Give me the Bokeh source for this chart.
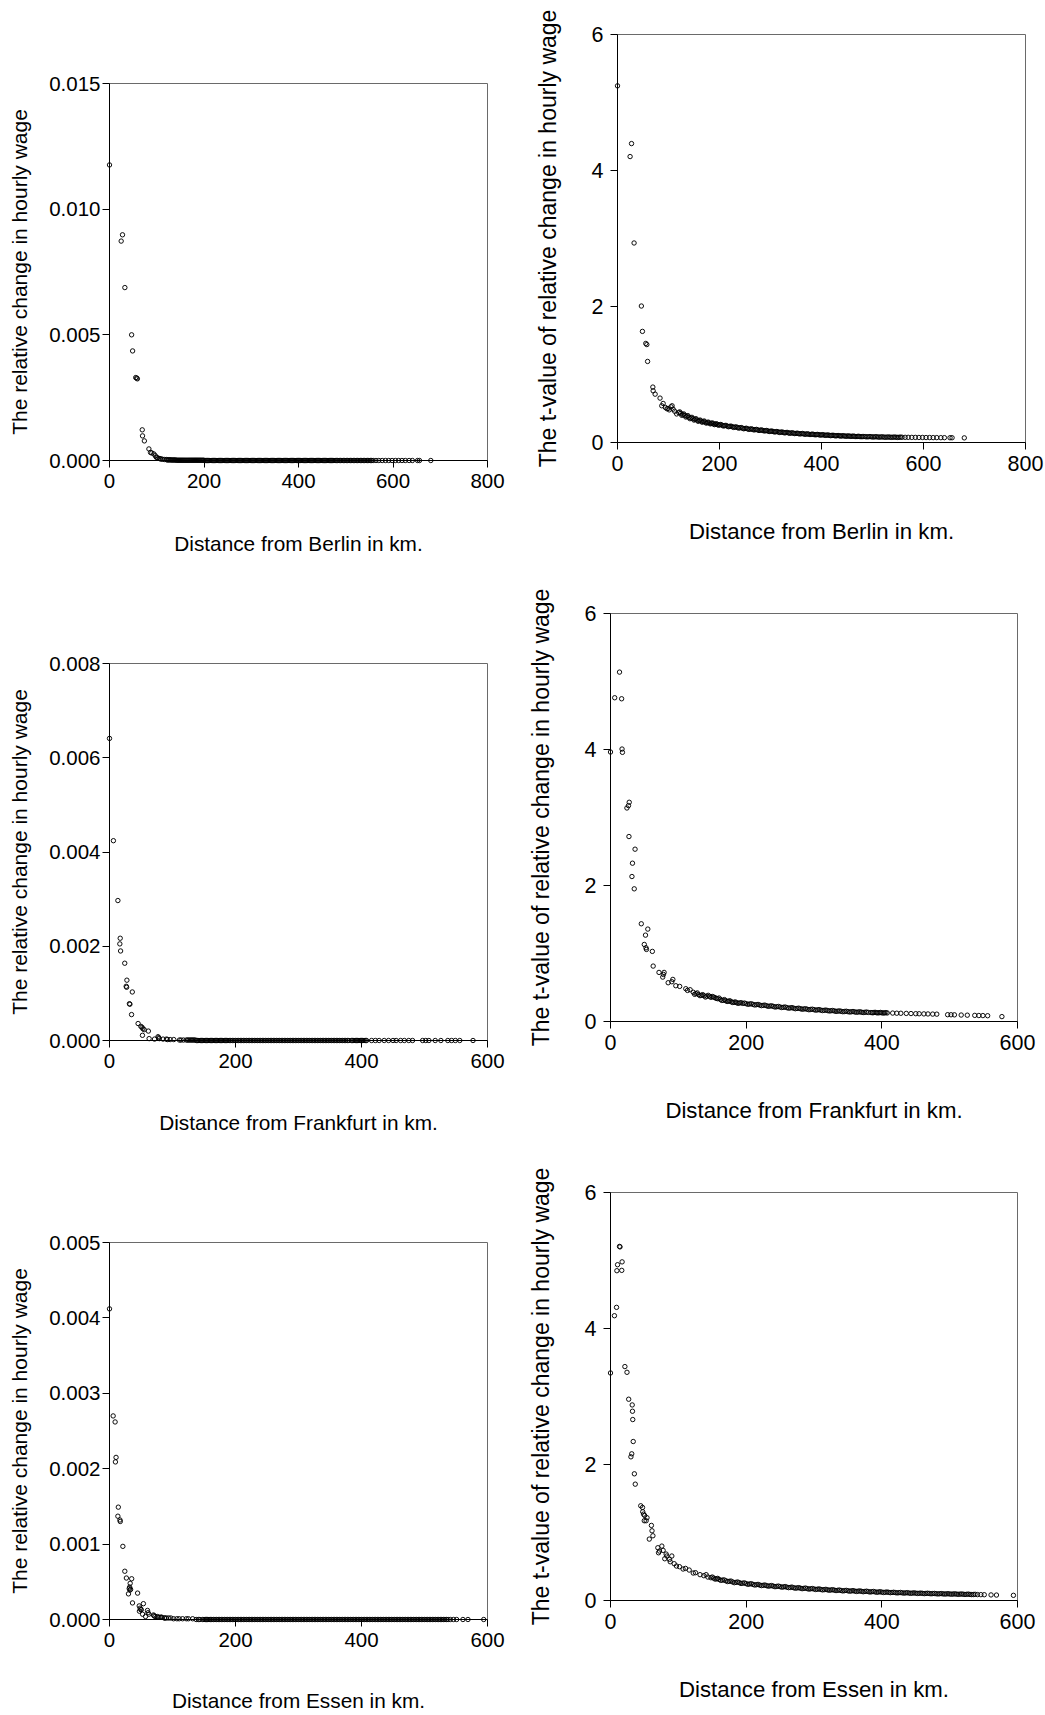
from bokeh.plotting import figure
from bokeh.layouts import column, row
from bokeh.models import Range1d, FixedTicker, PrintfTickFormatter, ColumnDataSource
from bokeh.embed import file_html
from bokeh.resources import INLINE

FONT = "Liberation Sans"

# ---------------- data ----------------
berlin_dist = [
    0, 24.7, 27.5, 32.5, 46.8, 48.9, 55.5, 57.5, 59.0, 69.3,
    69.9, 73.8, 83.4, 86.8, 89.5, 93.9, 97.0, 99.0, 101.5, 105.0,
    107.0, 109.0, 112, 116, 120, 124, 128, 132, 136, 140,
    144, 148, 152, 156, 160, 164, 168, 172, 176, 180,
    184, 188, 192, 196, 200, 205, 210, 215, 220, 225,
    230, 235, 240, 245, 250, 255, 260, 265, 270, 275,
    280, 285, 290, 295, 300, 305, 310, 315, 320, 325,
    330, 335, 340, 345, 350, 355, 360, 365, 370, 375,
    380, 385, 390, 395, 400, 405, 410, 415, 420, 425,
    430, 435, 440, 445, 450, 455, 460, 465, 470, 475,
    480, 486, 492, 498, 504, 510, 516, 522, 528, 534,
    540, 546, 552, 558, 564, 570, 577, 584, 591, 598,
    605, 612, 619, 626, 634, 641, 652, 656, 680]
berlin_rel = [
    0.01176, 0.00873, 0.00898, 0.00688, 0.00500, 0.00436, 0.00330, 0.00328, 0.00325, 0.00122,
    0.00098, 0.00078, 0.00046, 0.00032, 0.00030, 0.00026, 0.00019, 0.00013, 0.00011, 0.00008,
    0.00007, 0.00006, 0.00005, 0.00004, 0.00004, 0.00003, 0.00003, 0.00002, 0.00002, 0.00002,
    0.00001, 0.00001, 0.00001, 0.00001, 0.00001, 0.00001, 0.00001, 0.00001, 0.00001, 0.00001,
    0.00001, 0.00001, 0.00001, 0.00001, 0.00001, 0.0, 0.0, 0.0, 0.0, 0.0,
    0.0, 0.0, 0.0, 0.0, 0.0, 0.0, 0.0, 0.0, 0.0, 0.0,
    0.0, 0.0, 0.0, 0.0, 0.0, 0.0, 0.0, 0.0, 0.0, 0.0,
    0.0, 0.0, 0.0, 0.0, 0.0, 0.0, 0.0, 0.0, 0.0, 0.0,
    0.0, 0.0, 0.0, 0.0, 0.0, 0.0, 0.0, 0.0, 0.0, 0.0,
    0.0, 0.0, 0.0, 0.0, 0.0, 0.0, 0.0, 0.0, 0.0, 0.0,
    0.0, 0.0, 0.0, 0.0, 0.0, 0.0, 0.0, 0.0, 0.0, 0.0,
    0.0, 0.0, 0.0, 0.0, 0.0, 0.0, 0.0, 0.0, 0.0, 0.0,
    0.0, 0.0, 0.0, 0.0, 0.0, 0.0, 0.0, 0.0, 0.0]
berlin_t = [
    5.245, 4.205, 4.396, 2.934, 2.007, 1.634, 1.457, 1.440, 1.192, 0.815,
    0.760, 0.711, 0.653, 0.540, 0.574, 0.515, 0.496, 0.500, 0.480, 0.525,
    0.540, 0.490, 0.46, 0.42, 0.44, 0.43, 0.41, 0.40, 0.385, 0.37,
    0.36, 0.35, 0.34, 0.33, 0.322, 0.315, 0.308, 0.30, 0.293, 0.287,
    0.281, 0.275, 0.27, 0.265, 0.26, 0.254, 0.248, 0.242, 0.237, 0.232,
    0.226, 0.221, 0.216, 0.211, 0.206, 0.201, 0.197, 0.193, 0.189, 0.185,
    0.181, 0.177, 0.173, 0.169, 0.165, 0.162, 0.158, 0.155, 0.151, 0.148,
    0.145, 0.142, 0.139, 0.137, 0.134, 0.131, 0.129, 0.127, 0.124, 0.122,
    0.120, 0.118, 0.116, 0.114, 0.112, 0.110, 0.108, 0.106, 0.104, 0.102,
    0.100, 0.099, 0.097, 0.096, 0.094, 0.093, 0.092, 0.090, 0.089, 0.088,
    0.087, 0.086, 0.085, 0.084, 0.083, 0.082, 0.081, 0.080, 0.079, 0.079,
    0.078, 0.078, 0.077, 0.077, 0.076, 0.076, 0.075, 0.075, 0.074, 0.074,
    0.073, 0.073, 0.072, 0.072, 0.071, 0.071, 0.070, 0.070, 0.068]
# second layer of the dense Berlin band
berlin_dist_b = [
    122, 126, 130, 134, 138, 142, 146, 150, 154, 158,
    162, 166, 170, 174, 178, 182, 186, 190, 194, 198,
    202.5, 207.5, 212.5, 217.5, 222.5, 227.5, 232.5, 237.5, 242.5, 247.5,
    252.5, 257.5, 262.5, 267.5, 272.5, 277.5, 282.5, 287.5, 292.5, 297.5,
    302.5, 307.5, 312.5, 317.5, 322.5, 327.5, 332.5, 337.5, 342.5, 347.5,
    352.5, 357.5, 362.5, 367.5, 372.5, 377.5, 382.5, 387.5, 392.5, 397.5,
    402.5, 407.5, 412.5, 417.5, 422.5, 427.5, 432.5, 437.5, 442.5, 447.5,
    452.5, 457.5, 462.5, 467.5, 472.5, 477.5, 483, 489, 495, 501,
    507, 513, 519, 525, 531, 537, 543, 549, 555]
berlin_rel_b = [
    0.00002, 0.00002, 0.00002, 0.00002, 0.00002, 0.00001, 0.00001, 0.00001, 0.00001, 0.00001,
    0.00001, 0.00001, 0.00001, 0.00001, 0.00001, 0.00001, 0.00001, 0.00001, 0.00001, 0.00001,
    0.0, 0.0, 0.0, 0.0, 0.0, 0.0, 0.0, 0.0, 0.0, 0.0,
    0.0, 0.0, 0.0, 0.0, 0.0, 0.0, 0.0, 0.0, 0.0, 0.0,
    0.0, 0.0, 0.0, 0.0, 0.0, 0.0, 0.0, 0.0, 0.0, 0.0,
    0.0, 0.0, 0.0, 0.0, 0.0, 0.0, 0.0, 0.0, 0.0, 0.0,
    0.0, 0.0, 0.0, 0.0, 0.0, 0.0, 0.0, 0.0, 0.0, 0.0,
    0.0, 0.0, 0.0, 0.0, 0.0, 0.0, 0.0, 0.0, 0.0, 0.0,
    0.0, 0.0, 0.0, 0.0, 0.0, 0.0, 0.0, 0.0, 0.0]
berlin_t_b = [
    0.45, 0.40, 0.42, 0.375, 0.395, 0.35, 0.37, 0.33, 0.35, 0.312,
    0.33, 0.298, 0.316, 0.285, 0.30, 0.274, 0.288, 0.263, 0.276, 0.254,
    0.265, 0.243, 0.252, 0.232, 0.241, 0.222, 0.23, 0.212, 0.22, 0.202,
    0.21, 0.193, 0.201, 0.185, 0.193, 0.177, 0.185, 0.17, 0.177, 0.162,
    0.169, 0.155, 0.162, 0.148, 0.155, 0.142, 0.149, 0.136, 0.143, 0.131,
    0.137, 0.126, 0.133, 0.121, 0.128, 0.117, 0.123, 0.113, 0.119, 0.109,
    0.115, 0.105, 0.111, 0.101, 0.107, 0.098, 0.103, 0.095, 0.100, 0.092,
    0.097, 0.090, 0.094, 0.087, 0.091, 0.085, 0.088, 0.083, 0.087, 0.081,
    0.085, 0.079, 0.083, 0.077, 0.081, 0.076, 0.080, 0.075, 0.079]

frank_dist = [
    0, 6.2, 13.3, 16.4, 17.0, 17.6, 24.2, 26.5, 27.2, 27.6,
    31.6, 32.4, 35.0, 36.2, 45.4, 49.8, 51.6, 52.3, 53.0, 55.0,
    61.7, 62.9, 71.5, 77.0, 78.0, 79.0, 85.0, 90.4, 91.9, 96.3,
    102.0, 111.0, 113.5, 117.4, 122, 126, 130, 134, 138, 142,
    146, 150, 154, 158, 162, 166, 170, 174, 178, 182,
    186, 190, 195, 200, 205, 210, 215, 220, 225, 230,
    235, 240, 245, 250, 255, 260, 265, 270, 275, 280,
    285, 290, 295, 300, 305, 310, 315, 320, 325, 330,
    335, 340, 345, 350, 355, 360, 365, 370, 375, 380,
    384, 388, 392, 396, 400, 404, 408, 416, 422, 428,
    436, 443, 450, 455, 462, 468, 475, 481, 497, 502,
    507, 517, 526, 537, 543, 549, 556, 577]
frank_rel = [
    0.00641, 0.00424, 0.00297, 0.00205, 0.00217, 0.00190, 0.00164, 0.00115, 0.00113, 0.00128,
    0.00078, 0.00077, 0.00055, 0.00103, 0.00036, 0.00030, 0.00028, 0.00011, 0.00025, 0.00023,
    0.00020, 0.00004, 0.00003, 0.00008, 0.00006, 0.00004, 0.00003, 0.00003, 0.00002, 0.00002,
    0.00002, 0.00001, 0.00001, 0.00001, 0.00001, 0.00001, 0.00001, 0.00001, 0.0, 0.0,
    0.0, 0.0, 0.0, 0.0, 0.0, 0.0, 0.0, 0.0, 0.0, 0.0,
    0.0, 0.0, 0.0, 0.0, 0.0, 0.0, 0.0, 0.0, 0.0, 0.0,
    0.0, 0.0, 0.0, 0.0, 0.0, 0.0, 0.0, 0.0, 0.0, 0.0,
    0.0, 0.0, 0.0, 0.0, 0.0, 0.0, 0.0, 0.0, 0.0, 0.0,
    0.0, 0.0, 0.0, 0.0, 0.0, 0.0, 0.0, 0.0, 0.0, 0.0,
    0.0, 0.0, 0.0, 0.0, 0.0, 0.0, 0.0, 0.0, 0.0, 0.0,
    0.0, 0.0, 0.0, 0.0, 0.0, 0.0, 0.0, 0.0, 0.0, 0.0,
    0.0, 0.0, 0.0, 0.0, 0.0, 0.0, 0.0, 0.0]
frank_t = [
    3.963, 4.761, 5.138, 4.746, 4.007, 3.958, 3.140, 3.175, 2.720, 3.224,
    2.132, 2.328, 1.951, 2.534, 1.437, 1.133, 1.270, 1.084, 1.060, 1.359,
    1.031, 0.815, 0.722, 0.653, 0.692, 0.722, 0.570, 0.585, 0.619, 0.526,
    0.516, 0.482, 0.457, 0.467, 0.43, 0.41, 0.395, 0.385, 0.378, 0.372,
    0.37, 0.368, 0.35, 0.335, 0.325, 0.312, 0.305, 0.298, 0.29, 0.282,
    0.276, 0.272, 0.266, 0.262, 0.257, 0.252, 0.247, 0.242, 0.237, 0.232,
    0.227, 0.222, 0.217, 0.213, 0.209, 0.204, 0.200, 0.196, 0.192, 0.188,
    0.184, 0.180, 0.177, 0.174, 0.171, 0.167, 0.164, 0.161, 0.158, 0.155,
    0.152, 0.150, 0.147, 0.145, 0.143, 0.141, 0.139, 0.137, 0.135, 0.133,
    0.132, 0.131, 0.130, 0.129, 0.128, 0.127, 0.126, 0.124, 0.122, 0.121,
    0.119, 0.117, 0.115, 0.114, 0.112, 0.111, 0.109, 0.108, 0.100, 0.099,
    0.098, 0.095, 0.093, 0.090, 0.088, 0.087, 0.085, 0.072]
# second layer of the dense Frankfurt band
frank_dist_b = [
    124, 128, 132, 136, 140, 144, 148, 152, 156, 160,
    164, 168, 172, 176, 180, 184, 188, 192.5, 197.5, 202.5,
    207.5, 212.5, 217.5, 222.5, 227.5, 232.5, 237.5, 242.5, 247.5, 252.5,
    257.5, 262.5, 267.5, 272.5, 277.5, 282.5, 287.5, 292.5, 297.5, 302.5,
    307.5, 312.5, 317.5, 322.5, 327.5, 332.5, 337.5, 342.5, 347.5, 352.5,
    357.5, 362.5, 367.5, 372.5, 377.5, 386, 390, 394, 398, 402,
    406]
frank_rel_b = [
    0.00001, 0.00001, 0.00001, 0.00001, 0.0, 0.0, 0.0, 0.0, 0.0, 0.0,
    0.0, 0.0, 0.0, 0.0, 0.0, 0.0, 0.0, 0.0, 0.0, 0.0,
    0.0, 0.0, 0.0, 0.0, 0.0, 0.0, 0.0, 0.0, 0.0, 0.0,
    0.0, 0.0, 0.0, 0.0, 0.0, 0.0, 0.0, 0.0, 0.0, 0.0,
    0.0, 0.0, 0.0, 0.0, 0.0, 0.0, 0.0, 0.0, 0.0, 0.0,
    0.0, 0.0, 0.0, 0.0, 0.0, 0.0, 0.0, 0.0, 0.0, 0.0,
    0.0]
frank_t_b = [
    0.40, 0.42, 0.38, 0.395, 0.36, 0.385, 0.355, 0.36, 0.34, 0.345,
    0.31, 0.322, 0.295, 0.305, 0.28, 0.288, 0.268, 0.277, 0.271, 0.253,
    0.261, 0.243, 0.251, 0.233, 0.241, 0.223, 0.231, 0.213, 0.221, 0.205,
    0.213, 0.196, 0.204, 0.188, 0.196, 0.181, 0.188, 0.173, 0.181, 0.167,
    0.175, 0.161, 0.168, 0.155, 0.162, 0.149, 0.156, 0.144, 0.151, 0.140,
    0.147, 0.136, 0.143, 0.132, 0.139, 0.129, 0.135, 0.127, 0.133, 0.125,
    0.130]

essen_dist = [
    0, 5.8, 8.9, 9.4, 10.4, 13.3, 14.0, 16.6, 17.1, 21.2,
    24.3, 26.8, 30.1, 31.3, 32.0, 32.4, 32.8, 33.5, 35.2, 36.5,
    44.6, 47.2, 47.5, 48.7, 49.8, 50.3, 52.5, 53.8, 57.2, 60.3,
    61.2, 62.5, 69.8, 70.8, 72.2, 75.7, 77.6, 80.0, 82.0, 83.0,
    87.0, 88.0, 90.4, 93.9, 97.3, 101.7, 107.0, 110.6, 116.0, 122.0,
    125.3, 132.0, 137.6, 141.0, 143.5, 148, 152, 156, 160, 165,
    170, 175, 180, 185, 190, 195, 200, 205, 210, 215,
    220, 225, 230, 235, 240, 245, 250, 255, 260, 265,
    270, 275, 280, 285, 290, 295, 300, 305, 310, 315,
    320, 325, 330, 335, 340, 345, 350, 355, 360, 365,
    370, 375, 380, 385, 390, 395, 400, 405, 410, 415,
    420, 425, 430, 435, 440, 445, 450, 455, 460, 465,
    470, 475, 480, 485, 490, 495, 500, 505, 510, 515,
    520, 525, 530, 535, 541, 546, 551, 561, 569, 594]
essen_rel = [
    0.00412, 0.00270, 0.00262, 0.00209, 0.00215, 0.00137, 0.00149, 0.00132, 0.00130, 0.00097,
    0.00064, 0.00055, 0.00034, 0.00041, 0.00043, 0.00039, 0.00048, 0.00040, 0.00054, 0.00022,
    0.00035, 0.00018, 0.00011, 0.00015, 0.00013, 0.00013, 0.00007, 0.00021, 0.00004, 0.00012,
    0.00009, 0.00007, 0.00006, 0.00005, 0.00004, 0.00004, 0.00003, 0.00003, 0.00003, 0.00003,
    0.00002, 0.00002, 0.00002, 0.00002, 0.00002, 0.00001, 0.00001, 0.00001, 0.00001, 0.00001,
    0.00001, 0.00001, 0.0, 0.0, 0.0, 0.0, 0.0, 0.0, 0.0, 0.0,
    0.0, 0.0, 0.0, 0.0, 0.0, 0.0, 0.0, 0.0, 0.0, 0.0,
    0.0, 0.0, 0.0, 0.0, 0.0, 0.0, 0.0, 0.0, 0.0, 0.0,
    0.0, 0.0, 0.0, 0.0, 0.0, 0.0, 0.0, 0.0, 0.0, 0.0,
    0.0, 0.0, 0.0, 0.0, 0.0, 0.0, 0.0, 0.0, 0.0, 0.0,
    0.0, 0.0, 0.0, 0.0, 0.0, 0.0, 0.0, 0.0, 0.0, 0.0,
    0.0, 0.0, 0.0, 0.0, 0.0, 0.0, 0.0, 0.0, 0.0, 0.0,
    0.0, 0.0, 0.0, 0.0, 0.0, 0.0, 0.0, 0.0, 0.0, 0.0,
    0.0, 0.0, 0.0, 0.0, 0.0, 0.0, 0.0, 0.0, 0.0, 0.0]
essen_t = [
    3.346, 4.188, 4.311, 4.850, 4.938, 5.207, 5.200, 4.855, 4.980, 3.440,
    3.356, 2.960, 2.113, 2.157, 2.876, 2.783, 2.661, 2.338, 1.863, 1.711,
    1.393, 1.368, 1.305, 1.270, 1.173, 1.251, 1.173, 1.217, 0.903, 1.104,
    1.025, 0.952, 0.776, 0.702, 0.727, 0.800, 0.737, 0.614, 0.683, 0.654,
    0.605, 0.570, 0.654, 0.541, 0.507, 0.497, 0.463, 0.472, 0.448, 0.404,
    0.409, 0.380, 0.365, 0.380, 0.345, 0.335, 0.330, 0.318, 0.310, 0.300,
    0.290, 0.282, 0.273, 0.267, 0.262, 0.255, 0.248, 0.243, 0.237, 0.232,
    0.227, 0.223, 0.219, 0.215, 0.211, 0.207, 0.204, 0.200, 0.196, 0.192,
    0.188, 0.185, 0.181, 0.178, 0.175, 0.172, 0.169, 0.166, 0.163, 0.160,
    0.157, 0.155, 0.152, 0.150, 0.147, 0.145, 0.143, 0.141, 0.139, 0.137,
    0.135, 0.133, 0.131, 0.129, 0.127, 0.125, 0.123, 0.121, 0.120, 0.118,
    0.116, 0.115, 0.113, 0.112, 0.110, 0.109, 0.108, 0.106, 0.105, 0.104,
    0.103, 0.102, 0.100, 0.099, 0.098, 0.097, 0.096, 0.095, 0.094, 0.093,
    0.092, 0.091, 0.089, 0.088, 0.087, 0.086, 0.085, 0.082, 0.080, 0.076]
# second layer of the dense Essen band
essen_dist_b = [
    150, 154, 158, 162.5, 167.5, 172.5, 177.5, 182.5, 187.5, 192.5,
    197.5, 202.5, 207.5, 212.5, 217.5, 222.5, 227.5, 232.5, 237.5, 242.5,
    247.5, 252.5, 257.5, 262.5, 267.5, 272.5, 277.5, 282.5, 287.5, 292.5,
    297.5, 302.5, 307.5, 312.5, 317.5, 322.5, 327.5, 332.5, 337.5, 342.5,
    347.5, 352.5, 357.5, 362.5, 367.5, 372.5, 377.5, 382.5, 387.5, 392.5,
    397.5, 402.5, 407.5, 412.5, 417.5, 422.5, 427.5, 432.5, 437.5, 442.5,
    447.5, 452.5, 457.5, 462.5, 467.5, 472.5, 477.5, 482.5, 487.5, 492.5,
    497.5, 502.5, 507.5, 512.5, 517.5, 522.5, 527.5, 532.5, 537.5]
essen_rel_b = [
    0.0, 0.0, 0.0, 0.0, 0.0, 0.0, 0.0, 0.0, 0.0, 0.0,
    0.0, 0.0, 0.0, 0.0, 0.0, 0.0, 0.0, 0.0, 0.0, 0.0,
    0.0, 0.0, 0.0, 0.0, 0.0, 0.0, 0.0, 0.0, 0.0, 0.0,
    0.0, 0.0, 0.0, 0.0, 0.0, 0.0, 0.0, 0.0, 0.0, 0.0,
    0.0, 0.0, 0.0, 0.0, 0.0, 0.0, 0.0, 0.0, 0.0, 0.0,
    0.0, 0.0, 0.0, 0.0, 0.0, 0.0, 0.0, 0.0, 0.0, 0.0,
    0.0, 0.0, 0.0, 0.0, 0.0, 0.0, 0.0, 0.0, 0.0, 0.0,
    0.0, 0.0, 0.0, 0.0, 0.0, 0.0, 0.0, 0.0, 0.0]
essen_t_b = [
    0.345, 0.316, 0.325, 0.296, 0.303, 0.279, 0.286, 0.262, 0.272, 0.251,
    0.259, 0.238, 0.247, 0.228, 0.237, 0.219, 0.228, 0.211, 0.220, 0.203,
    0.212, 0.196, 0.205, 0.189, 0.197, 0.181, 0.189, 0.174, 0.183, 0.168,
    0.176, 0.162, 0.170, 0.156, 0.164, 0.151, 0.159, 0.146, 0.154, 0.141,
    0.149, 0.137, 0.145, 0.133, 0.141, 0.129, 0.137, 0.125, 0.133, 0.121,
    0.129, 0.118, 0.125, 0.115, 0.121, 0.112, 0.118, 0.109, 0.115, 0.106,
    0.112, 0.104, 0.109, 0.101, 0.107, 0.099, 0.104, 0.097, 0.102, 0.095,
    0.100, 0.093, 0.098, 0.091, 0.096, 0.089, 0.094, 0.087, 0.091]

x_ticks_800 = [0, 200, 400, 600, 800]
x_ticks_600 = [0, 200, 400, 600]
rel_ticks_berlin = [0.0, 0.005, 0.010, 0.015]
rel_ticks_frank = [0.0, 0.002, 0.004, 0.006, 0.008]
rel_ticks_essen = [0.0, 0.001, 0.002, 0.003, 0.004, 0.005]
t_ticks = [0, 2, 4, 6]

REL_LABEL = "The relative change in hourly wage"
T_LABEL = "The t-value of relative change in hourly wage"


def panel(xs, ys, xmax, xticks, ymax, yticks, yfmt, xlabel, ylabel,
          w, h, bl, br, bt, bb, ytick_so, ylab_so, xlab_so, fonts):
    tick_fs, xlab_fs, ylab_fs = fonts
    p = figure(width=w, height=h, output_backend="svg", toolbar_location=None,
               x_range=Range1d(0, xmax), y_range=Range1d(0, ymax),
               min_border_left=bl, min_border_right=br,
               min_border_top=bt, min_border_bottom=bb,
               x_axis_label=xlabel, y_axis_label=ylabel)
    p.frame_align = False
    p.xgrid.visible = False
    p.ygrid.visible = False
    p.outline_line_color = "#6a6a6a"
    p.outline_line_width = 1
    p.background_fill_color = "white"
    p.border_fill_color = "white"
    src = ColumnDataSource(dict(x=xs, y=ys))
    r = p.scatter("x", "y", source=src, marker="circle", size=4.4,
                  line_color="black", line_width=0.95, fill_color=None)
    r.level = "overlay"
    p.xaxis.ticker = FixedTicker(ticks=xticks)
    p.yaxis.ticker = FixedTicker(ticks=yticks)
    if yfmt:
        p.yaxis.formatter = PrintfTickFormatter(format=yfmt)
    for ax, lab_fs in ((p.xaxis[0], xlab_fs), (p.yaxis[0], ylab_fs)):
        ax.axis_line_color = "black"
        ax.axis_line_width = 1
        ax.major_tick_line_color = "black"
        ax.minor_tick_line_color = None
        ax.major_tick_out = 7
        ax.major_tick_in = 0
        ax.major_label_text_font = FONT
        ax.major_label_text_font_size = tick_fs
        ax.major_label_text_color = "black"
        ax.axis_label_text_font = FONT
        ax.axis_label_text_font_size = lab_fs
        ax.axis_label_text_font_style = "normal"
        ax.axis_label_text_color = "black"
    p.xaxis.major_label_standoff = 6
    p.xaxis.axis_label_standoff = xlab_so
    p.yaxis.major_label_standoff = ytick_so
    p.yaxis.axis_label_standoff = ylab_so
    return p


L_FONTS = ("20.5px", "20.8px", "21px")
R_FONTS = ("21.5px", "22.2px", "23px")

p1 = panel(berlin_dist + berlin_dist_b, berlin_rel + berlin_rel_b, 800, x_ticks_800,
           0.015, rel_ticks_berlin, "%.3f",
           "Distance from Berlin in km.", REL_LABEL,
           520, 579, 109, 33, 83, 119, 2, 15, 41, L_FONTS)
p2 = panel(berlin_dist + berlin_dist_b, berlin_t + berlin_t_b, 800, x_ticks_800,
           6, t_ticks, None,
           "Distance from Berlin in km.", T_LABEL,
           525, 579, 97, 20, 34, 137, 7, 28, 45, R_FONTS)
p3 = panel(frank_dist + frank_dist_b, frank_rel + frank_rel_b, 600, x_ticks_600,
           0.008, rel_ticks_frank, "%.3f",
           "Distance from Frankfurt in km.", REL_LABEL,
           520, 579, 109, 33, 84, 118, 2, 15, 40, L_FONTS)
p4 = panel(frank_dist + frank_dist_b, frank_t + frank_t_b, 600, x_ticks_600,
           6, t_ticks, None,
           "Distance from Frankfurt in km.", T_LABEL,
           525, 579, 90, 28, 34, 137, 7, 28, 45, R_FONTS)
p5 = panel(essen_dist + essen_dist_b, essen_rel + essen_rel_b, 600, x_ticks_600,
           0.005, rel_ticks_essen, "%.3f",
           "Distance from Essen in km.", REL_LABEL,
           520, 556, 109, 33, 84, 95, 2, 15, 39, L_FONTS)
p6 = panel(essen_dist + essen_dist_b, essen_t + essen_t_b, 600, x_ticks_600,
           6, t_ticks, None,
           "Distance from Essen in km.", T_LABEL,
           525, 556, 90, 28, 34, 114, 7, 28, 45, R_FONTS)

layout = column(row(p1, p2), row(p3, p4), row(p5, p6))

with open("out.html", "w") as f:
    f.write(file_html(layout, INLINE))
